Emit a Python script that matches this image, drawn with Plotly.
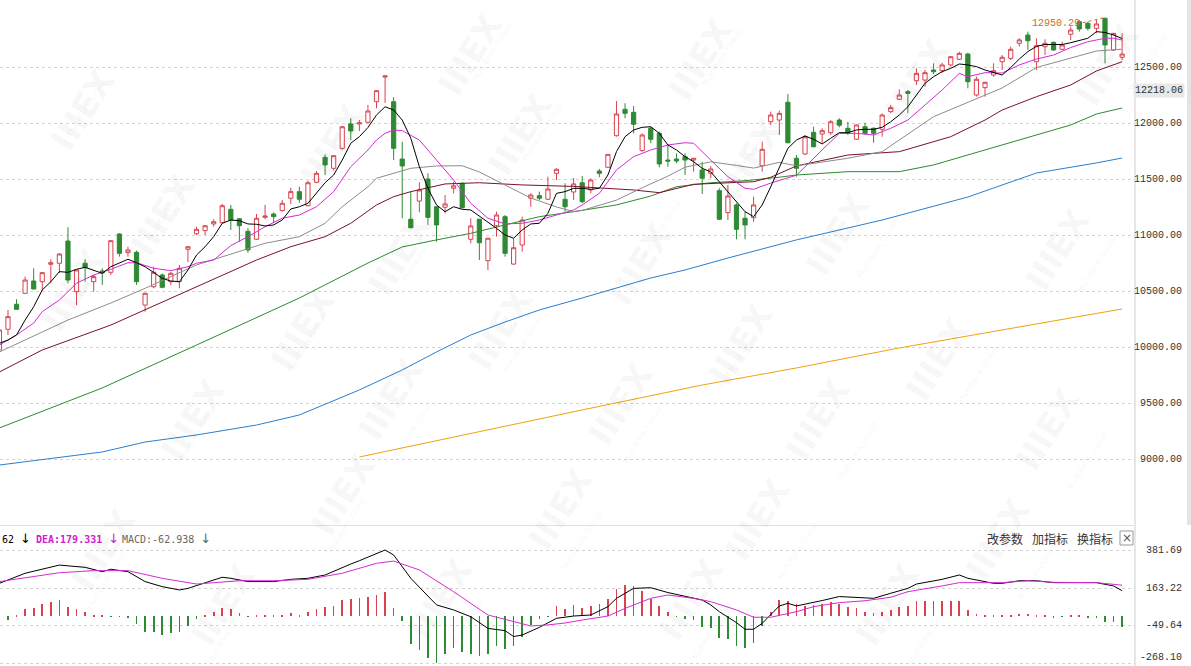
import plotly.graph_objects as go

# ---------------- data ----------------
candle_idx = list(range(132))
opens = [9976,10161,10385,10483,10593,10587,10743,10752,10951,10498,
         10752,10587,10683,10671,11014,10847,10850,10378,10542,10647,
         10587,10587,10877,11016,11044,11104,11115,11235,11151,11038,
         10967,11163,11193,11223,11334,11393,11267,11477,11700,11602,
         11781,11999,11999,12014,12198,12419,12198,11685,11146,11309,
         11506,11258,11253,11423,11468,10967,11146,10775,11088,11169,
         10745,10916,11334,11357,11325,11557,11325,11390,11473,11408,
         11578,11611,11894,12130,12103,11760,11960,11915,11676,11685,
         11706,11676,11587,11557,11402,11205,11274,11155,11160,11625,
         12019,12034,12193,11692,11730,11924,11909,11921,12034,11960,
         11862,11974,11960,11951,12109,12220,12288,12386,12392,12482,
         12476,12527,12578,12625,12258,12324,12437,12556,12587,12721,
         12795,12556,12690,12730,12667,12802,12914,12900,12855,12945,
         12661,12596]
highs = [10190,10334,10430,10632,10707,10672,10788,10844,11074,10695,
         10788,10647,10707,10960,11020,10900,10865,10489,10721,10662,
         10677,10737,10905,11079,11092,11146,11283,11274,11155,11065,
         11193,11274,11208,11318,11428,11437,11491,11578,11727,11720,
         11983,12050,12034,12169,12303,12437,12238,11840,11393,11477,
         11557,11262,11363,11482,11473,11155,11150,10980,11214,11184,
         10976,11169,11378,11393,11527,11602,11468,11515,11533,11513,
         11596,11730,12204,12184,12160,11915,11974,11930,11811,11736,
         11736,11695,11661,11623,11423,11453,11289,11214,11348,11840,
         12109,12118,12267,11721,11900,11974,11960,12034,12050,12019,
         11995,12010,11969,12094,12169,12309,12303,12497,12482,12542,
         12547,12605,12646,12637,12422,12377,12542,12616,12691,12766,
         12825,12766,12757,12735,12735,12870,12930,12914,12930,12950.29,
         12815,12810]
lows = [9958,10110,10334,10477,10518,10507,10573,10665,10573,10378,
        10587,10498,10558,10647,10811,10811,10558,10319,10528,10528,
        10558,10528,10763,11005,11005,11079,11110,11050,10945,10847,
        10961,11146,11110,11214,11283,11294,11262,11468,11542,11581,
        11766,11855,11936,12005,12139,12187,11676,11155,11065,11208,
        11095,10945,11199,11378,11244,10931,10781,10692,10990,10811,
        10737,10856,11258,11318,11318,11497,11214,11318,11289,11378,
        11522,11608,11885,12050,11915,11751,11826,11611,11616,11647,
        11542,11572,11372,11513,11139,11139,10967,10967,11124,11572,
        11990,11900,11826,11527,11721,11790,11826,11900,11969,11900,
        11855,11906,11831,11885,12094,12213,12094,12348,12333,12446,
        12458,12512,12571,12318,12243,12243,12422,12482,12571,12691,
        12661,12482,12616,12655,12661,12751,12825,12834,12810,12542,
        12655,12571]
closes = [10155,10274,10340,10602,10522,10668,10757,10835,10602,10692,
          10712,10632,10665,10954,10841,10871,10587,10483,10671,10537,
          10662,10707,10900,11056,11088,11124,11267,11139,11088,10871,
          11155,11175,11169,11289,11393,11325,11473,11557,11632,11715,
          11974,11936,12010,12115,12297,12428,11781,11623,11070,11408,
          11163,11095,11283,11445,11249,11086,10936,10976,11184,10841,
          10891,11139,11363,11334,11417,11593,11258,11462,11303,11497,
          11557,11727,12088,12094,11996,11900,11862,11641,11667,11667,
          11676,11692,11513,11596,11146,11354,11056,11095,11274,11772,
          12079,12094,11831,11602,11885,11795,11939,12019,11987,11915,
          11990,11915,11915,12079,12145,12258,12273,12452,12458,12467,
          12527,12601,12631,12377,12399,12372,12476,12596,12667,12751,
          12744,12699,12721,12661,12706,12840,12849,12855,12894,12706,
          12810,12625]

ma5 = [10036,10065,10110,10244,10363,10513,10587,10677,10671,10698,
       10716,10692,10662,10721,10757,10788,10757,10720,10670,10617,
       10593,10587,10692,10826,10900,10990,11110,11139,11133,11104,
       11101,11086,11095,11139,11238,11258,11289,11378,11473,11542,
       11676,11826,11885,11967,12079,12153,12124,12034,11871,11616,
       11423,11274,11214,11258,11235,11229,11175,11124,11065,11005,
       10976,11050,11104,11110,11199,11378,11393,11423,11423,11414,
       11423,11542,11751,11885,11945,11969,11974,11915,11811,11766,
       11706,11661,11602,11570,11480,11393,11303,11214,11169,11274,
       11437,11616,11781,11855,11891,11862,11820,11871,11921,11921,
       11945,11951,11951,11969,12019,12079,12153,12258,12363,12422,
       12467,12497,12536,12527,12512,12482,12458,12437,12504,12580,
       12646,12694,12710,12710,12710,12726,12744,12766,12825,12818,
       12795,12764]

ma10_x = [0,2,4,5,7,9,11,13,15,16,18,20,22,23,25,27,29,31,33,35,37,39,41,43,44,45,46,47,49,51,
          53,55,57,59,61,63,65,67,68,70,72,74,76,78,80,81,83,85,87,88,90,92,93,96,98,100,102,104,
          106,108,110,112,113,115,117,119,121,123,125,127,129,130,131]
ma10_y = [10020,10110,10217,10319,10423,10573,10647,10698,10757,10757,10707,10686,10721,10752,
          10781,10910,10990,11079,11155,11184,11258,11393,11616,11766,11855,11915,11945,11939,
          11855,11676,11497,11289,11155,11104,11110,11139,11184,11229,11274,11378,11587,11706,
          11766,11811,11831,11826,11676,11527,11423,11414,11470,11520,11540,11766,11915,11915,
          11900,11960,12034,12169,12303,12452,12422,12458,12455,12527,12580,12616,12683,12735,
          12766,12766,12751]

ma20_x = [0,8,13,17,23,31,35,38,40,43,44,46,48,51,54,56,59,62,65,67,68,72,75,78,80,83,86,88,
          91,93,99,103,109,114,117,121,125,128,131]
ma20_y = [9958,10244,10396,10528,10737,10931,10990,11110,11258,11437,11513,11557,11602,11623,
          11625,11569,11453,11336,11256,11215,11225,11317,11428,11532,11612,11660,11628,11604,
          11655,11624,11692,11751,12064,12229,12321,12504,12587,12652,12668]

ma30_x = [0,5,13,23,30,34,38,41,44,46,48,52,56,61,67,74,77,81,85,88,90,92,93,99,105,111,115,
          117,121,125,128,131]
ma30_y = [9779,9976,10199,10542,10781,10900,10990,11110,11274,11348,11393,11462,11473,11453,
          11440,11408,11384,11459,11473,11482,11522,11587,11623,11721,11751,11885,12034,12124,
          12243,12348,12473,12556]

ma60_x = [0,12,23,35,43,47,51,55,59,63,67,72,76,79,83,87,91,93,99,105,109,113,117,121,125,128,131]
ma60_y = [9278,9636,10020,10441,10754,10898,10961,11020,11095,11169,11214,11274,11354,11437,
          11473,11491,11522,11542,11572,11572,11632,11721,11811,11900,11990,12088,12142]

ma120_x = [0,12,17,23,30,35,42,47,51,55,59,63,68,76,80,85,93,103,113,121,128,131]
ma120_y = [8946,9063,9152,9215,9304,9394,9618,9797,9958,10110,10226,10334,10441,10620,10692,
           10799,10961,11139,11345,11560,11650,11694]

ma250_x = [42,53,68,82,93,105,117,131]
ma250_y = [9018,9197,9439,9662,9815,9994,10155,10343]

macd_hist = [-5,-20,5,42,48,71,81,94,52,42,
             27,5,3,-3,-3,-5,-44,-88,-92,-105,
             -96,-92,-54,-15,8,27,48,42,19,-3,
             3,3,3,8,19,4,27,42,52,61,
             94,100,103,109,123,142,48,-25,-159,-192,
             -241,-268.1,-217,-184,-207,-217,-226,-217,-169,-188,
             -172,-121,-50,-15,-3,61,42,65,46,61,
             71,100,157,180,176,148,100,61,27,-3,
             -15,-19,-63,-69,-126,-130,-169,-184,-153,-57,
             27,94,90,71,61,65,71,80,71,52,
             46,27,19,27,38,52,61,90,90,90,
             90,90,90,38,13,5,5,5,8,15,
             12,6,5,-4,-3,4,3,-5,-8,-31,
             -34,-62.938]

dif_x = [0,3,7,10,12,13,15,17,19,21,22,24,26,27,29,32,34,36,38,41,42,45,46,48,51,53,55,57,59,60,
         61,63,65,67,69,71,72,74,76,78,80,82,83,84,86,87,88,89,91,92,93,95,96,98,100,102,104,106,
         107,110,112,113,116,117,119,121,123,125,128,130,131]
dif_y = [190,248,295,282,257,271,257,200,171,152,161,194,225,219,200,200,213,219,238,301,
         320,381.69,353,219,66,37,-2,-69,-82,-116,-107,-63,-11,2,8,56,104,161,165,137,
         114,94,66,27,-36,-74,-74,-40,60,75,60,79,91,114,110,104,133,161,186,213,
         238,219,190,190,205,205,194,194,194,175,147.862]

dea_x = [0,4,7,11,15,19,23,28,32,36,40,44,46,49,53,57,62,64,66,68,71,73,76,78,81,83,86,88,90,93,
         95,98,101,104,106,110,112,117,120,123,128,131]
dea_y = [200,228,251,263,263,219,186,205,205,213,248,305,318,267,142,8,-55,-49,-38,-21,
         2,46,104,123,104,85,37,-5,-5,27,56,79,90,110,142,175,194,194,205,196,194,179.331]

price_ticks = [12500, 12000, 11500, 11000, 10500, 10000, 9500, 9000]
macd_ticks = [381.69, 163.22, -49.64, -268.10]
high_mark = 12950.29
cur_label = "12218.06"
legend_dif = "62"
legend_dea = "DEA:179.331"
legend_macd = "MACD:-62.938"
buttons = ["改参数", "加指标", "换指标"]

# ---------------- style ----------------
W, H = 1191, 666
PW = 1135  # plot width in px
RED = "#d8434f"
GREEN = "#2f8a34"
MONO = "Liberation Mono, DejaVu Sans Mono, monospace"
LEGF = "DejaVu Sans Mono, Liberation Mono, monospace"
ARROW = " <span style='font-family:DejaVu Sans;font-size:13px'>↓</span>"


def px(x):
    return x / PW


def py(y):
    return 1 - y / H


fig = go.Figure()

fig.add_trace(go.Candlestick(
    x=candle_idx, open=opens, high=highs, low=lows, close=closes,
    increasing=dict(line=dict(color=RED, width=1), fillcolor="white"),
    decreasing=dict(line=dict(color=GREEN, width=1), fillcolor=GREEN),
    whiskerwidth=0, hoverinfo="skip", xaxis="x", yaxis="y"))

ma_specs = [
    (ma250_x, ma250_y, "#f0a30a"),
    (ma120_x, ma120_y, "#2a7fd0"),
    (ma60_x, ma60_y, "#2d8a2d"),
    (ma30_x, ma30_y, "#7a1028"),
    (ma20_x, ma20_y, "#8c8c8c"),
    (ma10_x, ma10_y, "#d62ad6"),
    (candle_idx, ma5, "#000000"),
]
for xs, ys, col in ma_specs:
    fig.add_trace(go.Scatter(x=xs, y=ys, mode="lines", line=dict(color=col, width=1),
                             hoverinfo="skip", xaxis="x", yaxis="y"))

bar_colors = [RED if v >= 0 else GREEN for v in macd_hist]
fig.add_trace(go.Bar(x=candle_idx, y=macd_hist, width=0.08, marker=dict(color=bar_colors, line=dict(width=0)),
                     hoverinfo="skip", xaxis="x2", yaxis="y2"))
fig.add_trace(go.Scatter(x=dif_x, y=dif_y, mode="lines", line=dict(color="#000000", width=1),
                         hoverinfo="skip", xaxis="x2", yaxis="y2"))
fig.add_trace(go.Scatter(x=dea_x, y=dea_y, mode="lines", line=dict(color="#d62ad6", width=1),
                         hoverinfo="skip", xaxis="x2", yaxis="y2"))

xr = [0.07, 132.5]
fig.update_layout(
    width=W, height=H, margin=dict(l=0, r=W - PW, t=0, b=0),
    paper_bgcolor="white", plot_bgcolor="white", showlegend=False, bargap=0,
    xaxis=dict(domain=[0, 1], range=xr, visible=False, rangeslider=dict(visible=False), anchor="y"),
    xaxis2=dict(domain=[0, 1], range=xr, visible=False, matches="x", anchor="y2"),
    yaxis=dict(domain=[py(525), 1], range=[8409.2, 13108.5], tickvals=price_ticks,
               showticklabels=False, showgrid=True, gridcolor="#d4d4d4", griddash="dot",
               gridwidth=1, zeroline=False, showline=False, anchor="x"),
    yaxis2=dict(domain=[0, py(527)], range=[-285.2, 513.9], tickvals=macd_ticks,
                showticklabels=False, showgrid=True, gridcolor="#d4d4d4", griddash="dot",
                gridwidth=1, zeroline=False, showline=False, anchor="x2"),
)

ann = []
# watermarks
wm_pos = [(40, 60), (290, 95), (520, 85), (750, 110), (960, 30), (700, 10), (470, 5), (1150, 15),
          (120, 165), (400, 205), (640, 215), (880, 235), (1100, 250), (30, 290), (260, 330),
          (500, 330), (740, 345), (980, 360), (150, 420), (390, 450), (620, 455), (860, 470),
          (1090, 480), (300, 545), (560, 560), (800, 570), (1040, 590), (60, 600), (180, 655),
          (440, 650), (690, 650), (930, 655)]
for (wx, wy) in wm_pos:
    ann.append(dict(xref="paper", yref="paper", x=px(wx), y=py(wy), text="<b>IIIEX</b>",
                    showarrow=False, textangle=-58,
                    font=dict(family="DejaVu Sans", size=34, color="rgba(0,0,0,0.05)")))
    ann.append(dict(xref="paper", yref="paper", x=px(wx + 22), y=py(wy + 14), text="MultiBank Group",
                    showarrow=False, textangle=-58,
                    font=dict(family="DejaVu Sans", size=8, color="rgba(0,0,0,0.06)")))

# right price labels
for v in price_ticks:
    ann.append(dict(xref="paper", yref="y", x=px(1184), y=v, text=f"{v:.2f}", xanchor="right",
                    yanchor="middle", showarrow=False, font=dict(family=MONO, size=10, color="#333333")))
for v in macd_ticks[:3]:
    ann.append(dict(xref="paper", yref="y2", x=px(1184), y=v, text=f"{v:.2f}", xanchor="right",
                    yanchor="middle", showarrow=False, font=dict(family=MONO, size=10, color="#333333")))
ann.append(dict(xref="paper", yref="paper", x=px(1184), y=py(657), text=f"{macd_ticks[3]:.2f}",
                xanchor="right", yanchor="middle", showarrow=False,
                font=dict(family=MONO, size=10, color="#333333")))
# current price label
ann.append(dict(xref="paper", yref="paper", x=px(1185), y=py(91), text=cur_label, xanchor="right",
                yanchor="middle", showarrow=False, bgcolor="#e8e8e8", borderpad=1,
                font=dict(family=MONO, size=10, color="#333333")))
# high marker
ann.append(dict(xref="x", yref="y", x=126.3, y=12902, text=f"{high_mark:.2f}", xanchor="right",
                yanchor="middle", showarrow=False, font=dict(family=MONO, size=10, color="#d2691e")))
# MACD legend
ann.append(dict(xref="paper", yref="paper", x=px(0), y=py(538), text=legend_dif + ARROW, xanchor="left",
                yanchor="middle", showarrow=False, font=dict(family=LEGF, size=10, color="#000000")))
ann.append(dict(xref="paper", yref="paper", x=px(34), y=py(538), text="<b>" + legend_dea + "</b>" + ARROW,
                xanchor="left", yanchor="middle", showarrow=False,
                font=dict(family=LEGF, size=10, color="#d020d0")))
ann.append(dict(xref="paper", yref="paper", x=px(120), y=py(538), text=legend_macd + ARROW, xanchor="left",
                yanchor="middle", showarrow=False, font=dict(family=LEGF, size=10, color="#666666")))
for k, b in enumerate(buttons):
    ann.append(dict(xref="paper", yref="paper", x=px(985 + 45 * k), y=py(538), text=b, xanchor="left",
                    yanchor="middle", showarrow=False,
                    font=dict(family="Noto Sans CJK SC", size=12, color="#333333")))
ann.append(dict(xref="paper", yref="paper", x=px(1126.5), y=py(538), text="×", xanchor="center",
                yanchor="middle", showarrow=False, font=dict(family="DejaVu Sans", size=12, color="#555555")))

shapes = [
    dict(type="line", xref="paper", yref="paper", x0=1, x1=1, y0=0, y1=1,
         line=dict(color="#cfcfcf", width=1)),
    dict(type="line", xref="paper", yref="paper", x0=0, x1=1, y0=py(525.5), y1=py(525.5),
         line=dict(color="#e0e0e0", width=1)),
    dict(type="rect", xref="paper", yref="paper", x0=px(1187), x1=px(1192), y0=py(525), y1=1,
         line=dict(width=0), fillcolor="#e4e4e4"),
    dict(type="rect", xref="paper", yref="paper", x0=px(1120), x1=px(1133), y0=py(545), y1=py(531),
         line=dict(color="#999999", width=1), fillcolor="rgba(0,0,0,0)"),
    dict(type="line", xref="x", yref="y", x0=126.4, y0=12905, x1=128.9, y1=high_mark,
         line=dict(color="#d2691e", width=1, dash="dot")),
]

fig.update_layout(annotations=ann, shapes=shapes)

fig.write_html("out.html", config={"displayModeBar": False},
               post_script="document.body.style.margin='0';document.body.style.overflow='hidden';")
